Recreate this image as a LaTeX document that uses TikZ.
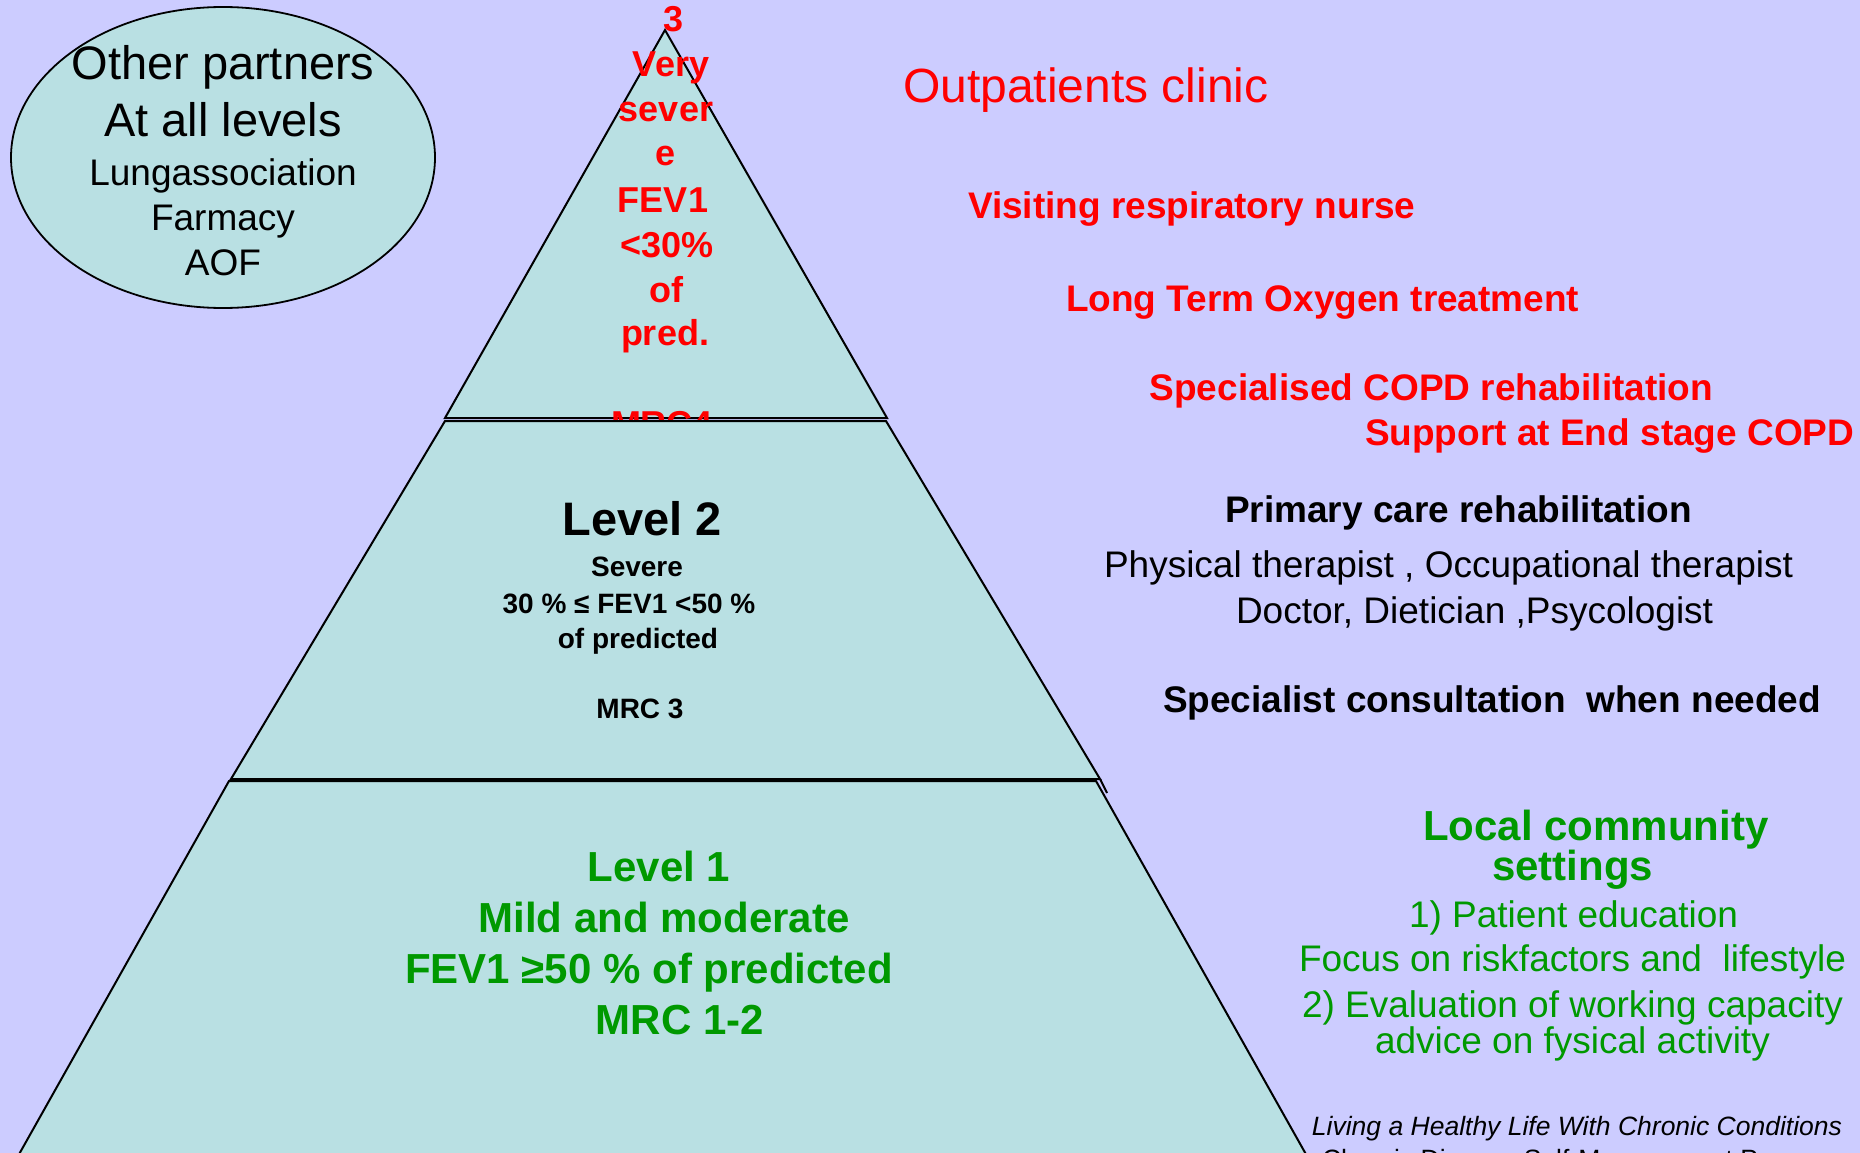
\documentclass[tikz,border=0pt]{standalone}
\usepackage{fontspec}
\setmainfont{Liberation Sans}
\definecolor{bgcol}{RGB}{204,204,255}
\definecolor{pyrfill}{RGB}{185,224,227}
\definecolor{tred}{RGB}{255,0,0}
\definecolor{tgreen}{RGB}{0,153,0}
\tikzset{
  txt/.style={inner sep=0pt, outer sep=0pt},
  pyr/.style={draw=black, line width=2pt, fill=pyrfill, line join=miter},
  lvthree/.style={txt, anchor=base, text=tred, font=\fontsize{36}{40}\selectfont\bfseries},
  lvtwohead/.style={txt, anchor=base, text=black, font=\fontsize{47}{52}\selectfont\bfseries},
  lvtwo/.style={txt, anchor=base, text=black, font=\fontsize{28}{32}\selectfont\bfseries},
  lvone/.style={txt, anchor=base, text=tgreen, font=\fontsize{42}{46}\selectfont\bfseries},
  ellbig/.style={txt, anchor=base, text=black, font=\fontsize{47}{52}\selectfont},
  ellsmall/.style={txt, anchor=base, text=black, font=\fontsize{37}{41}\selectfont},
  redbold/.style={txt, anchor=base west, text=tred, font=\fontsize{37}{41}\selectfont\bfseries},
  blackbold/.style={txt, anchor=base west, text=black, font=\fontsize{37}{41}\selectfont\bfseries},
  blackreg/.style={txt, anchor=base west, text=black, font=\fontsize{37}{41}\selectfont},
  greenbold/.style={txt, anchor=base west, text=tgreen, font=\fontsize{42}{46}\selectfont\bfseries},
  greenreg/.style={txt, anchor=base west, text=tgreen, font=\fontsize{37}{41}\selectfont},
  smallit/.style={txt, text=black, font=\fontsize{26.5}{30}\selectfont\itshape},
  smallreg/.style={txt, text=black, font=\fontsize{26.5}{30}\selectfont},
}
\begin{document}
\begin{tikzpicture}[x=1pt,y=-1pt]
\useasboundingbox (0,0) rectangle (1860,1153);
\clip (0,0) rectangle (1860,1153);
\fill[bgcol] (0,0) rectangle (1860,1153);

% ellipse with partners
\draw[pyr, line width=1.8pt] (223,157.5) ellipse [x radius=212, y radius=150.5];
\node[ellbig] (e1) at (223,80) {Other partners};
\node[ellbig] (e2) at (223,137) {At all levels};
\node[ellsmall] (e3) at (223,185) {Lungassociation};
\node[ellsmall] (e4) at (223,230) {Farmacy};
\node[ellsmall] (e5) at (223,275) {AOF};

% level 3 triangle
\draw[pyr] (665,30) -- (887,418) -- (445,418) -- cycle;
\node[lvthree] (t0) at (674,32) {3};
\node[lvthree] (t1) at (671,77) {Very};
\node[lvthree] (t2) at (666,122) {sever};
\node[lvthree] (t3) at (666,165) {e};
\node[lvthree] (t4) at (663,212) {FEV1};
\node[lvthree] (t5) at (667,257) {<30\%};
\node[lvthree] (t6) at (666,302) {of};
\node[lvthree] (t7) at (665,345) {pred.};
\node[lvthree] (t8) at (662,436) {MRC4};

% level 2 trapezoid
\draw[pyr] (445,421) -- (886,421) -- (1100,779) -- (231,779) -- cycle;
\draw[line width=2pt] (1100,779) -- (1107,793);
\node[lvtwohead] (s0) at (642,535) {Level 2};
\node[lvtwo] (s1) at (637,576) {Severe};
\node[lvtwo] (s2) at (629,613) {30 \% ≤ FEV1 <50 \%};
\node[lvtwo] (s3) at (638,648) {of predicted};
\node[lvtwo] (s4) at (640,718) {MRC 3};

% level 1 trapezoid
\draw[pyr] (229,781) -- (1096,781) -- (1312,1165) -- (13,1165) -- cycle;
\node[lvone] (o0) at (659,881) {Level 1};
\node[lvone] (o1) at (664,932) {Mild and moderate};
\node[lvone] (o2) at (649,983) {FEV1 ≥50 \% of predicted};
\node[lvone] (o3) at (680,1034) {MRC 1-2};

% right side texts
\node[txt, anchor=base west, text=tred, font=\fontsize{48}{52}\selectfont] (r0) at (903,103) {Outpatients clinic};
\node[redbold] (r1) at (968,218) {Visiting respiratory nurse};
\node[redbold] (r2) at (1066,311) {Long Term Oxygen treatment};
\node[redbold, anchor=base east] (r3) at (1713,400) {Specialised COPD rehabilitation};
\node[redbold] (r4) at (1365,445) {Support at End stage COPD};

\node[blackbold] (p0) at (1225,522) {Primary care rehabilitation};
\node[blackreg] (p1) at (1104,577) {Physical therapist , Occupational therapist};
\node[blackreg] (p2) at (1236,623) {Doctor, Dietician ,Psycologist};
\node[blackbold] (p3) at (1163,712) {Specialist consultation~ when needed};

\node[greenbold] (g0) at (1423,840) {Local community};
\node[greenbold] (g1) at (1492,880) {settings};
\node[greenreg] (g2) at (1409,927) {1) Patient education};
\node[greenreg] (g3) at (1299,971) {Focus on riskfactors and~ lifestyle};
\node[greenreg] (g4) at (1302,1017) {2) Evaluation of working capacity};
\node[greenreg] (g5) at (1375,1053) {advice on fysical activity};

\node[smallit, anchor=base east] (l0) at (1842,1135) {Living a Healthy Life With Chronic Conditions};
\node[smallreg, anchor=base] (l1) at (1582,1168) {Chronic Disease Self-Management Program};
\end{tikzpicture}
\end{document}
